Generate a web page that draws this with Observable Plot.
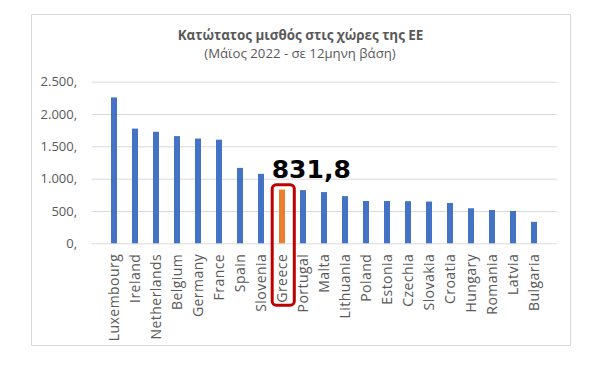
<!DOCTYPE html>
<html>
<head>
<meta charset="utf-8">
<script src="https://cdn.jsdelivr.net/npm/d3@7"></script>
<script src="https://cdn.jsdelivr.net/npm/@observablehq/plot@0.6"></script>
<style>
  html, body { margin: 0; padding: 0; background: #fff; }
  #wrap { position: relative; width: 600px; height: 379px; overflow: hidden; font-family: "Open Sans", sans-serif; }
  #frame { position: absolute; left: 31px; top: 14px; width: 540px; height: 332px; border: 1px solid #d9d9d9; box-sizing: border-box; }
  #title { position: absolute; left: 0; width: 601px; top: 26px; text-align: center; font-size: 13.4px; font-weight: bold; color: #595959; }
  #subtitle { position: absolute; left: 0; width: 600px; top: 44px; text-align: center; font-size: 13.2px; color: #595959; }
  #chart { position: absolute; left: 0; top: 0; }
  g[aria-label="x-axis tick label"] text { letter-spacing: 0.45px; }
</style>
</head>
<body>
<div id="wrap">
  <div id="frame"></div>
  <div id="chart"></div>
  <div id="title">Κατώτατος μισθός στις χώρες της ΕΕ</div>
  <div id="subtitle">(Μάϊος 2022 - σε 12μηνη βάση)</div>
</div>
<script>
const countries = ["Luxembourg","Ireland","Netherlands","Belgium","Germany","France","Spain","Slovenia","Greece","Portugal","Malta","Lithuania","Poland","Estonia","Czechia","Slovakia","Croatia","Hungary","Romania","Latvia","Bulgaria"];
const wages = [2257, 1774.5, 1725, 1658, 1621, 1603, 1166.7, 1074.4, 831.8, 822.5, 792.3, 730, 654.8, 654, 652, 646, 624, 542, 515, 500, 332.3];
const highlight = "Greece";
const highlightLabel = "831,8";
const yTicks = [0, 500, 1000, 1500, 2000, 2500];

const data = countries.map((c, i) => ({country: c, value: wages[i]}));
const hl = data.filter(d => d.country === highlight);
const fmt = d3.formatLocale({decimal: ",", thousands: ".", grouping: [3], currency: ["", "€"]}).format(",");

const chart = Plot.plot({
  width: 600,
  height: 379,
  marginLeft: 91.6,
  marginRight: 43.2,
  marginTop: 81.7,
  marginBottom: 135.7,
  style: {fontFamily: "Open Sans", fontSize: "13px", color: "#595959", background: "transparent"},
  x: {domain: countries, padding: 0.7, label: null},
  y: {domain: [0, 2500], label: null},
  marks: [
    Plot.ruleY(yTicks, {stroke: "#d9d9d9", strokeWidth: 1}),
    Plot.axisY({ticks: yTicks, tickSize: 0, tickPadding: 15, tickFormat: d => fmt(d) + ",", fontSize: 13, label: null}),
    Plot.axisX({tickSize: 0, tickRotate: -90, tickPadding: 10, fontSize: 14, label: null}),
    Plot.barY(data, {x: "country", y: "value", fill: d => d.country === highlight ? "#ED7D31" : "#4472C4"}),
    Plot.barY(hl, {x: "country", y: "value", fill: "none", stroke: "#C00000", strokeWidth: 3, rx: 4,
      insetLeft: -6.8, insetRight: -9.3, insetTop: -4.7, insetBottom: -61.9}),
    Plot.text(hl, {x: "country", y: "value", text: () => highlightLabel, textAnchor: "start", lineAnchor: "bottom",
      dx: -10.8, dy: -12.5, fontSize: 25, fontWeight: "bold", fontFamily: "DejaVu Sans", fill: "#000"})
  ]
});
document.getElementById("chart").appendChild(chart);
</script>
</body>
</html>
